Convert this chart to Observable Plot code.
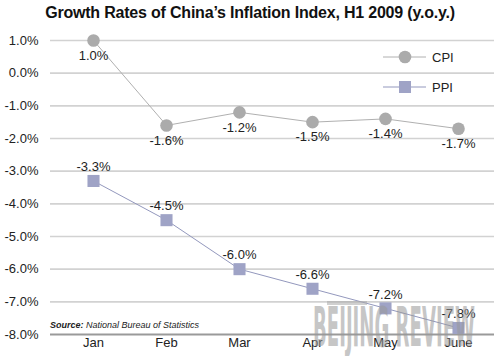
<!DOCTYPE html>
<html><head><meta charset="utf-8">
<script src="https://cdn.jsdelivr.net/npm/d3@7"></script>
<script src="https://cdn.jsdelivr.net/npm/@observablehq/plot@0.6"></script>
<style>
body{margin:0;background:#fff;font-family:"Liberation Sans",Arial,Helvetica,sans-serif;}
#wrap{position:relative;width:500px;height:356px;overflow:hidden;background:#fff}
#title{height:26px;line-height:26px;text-align:center;font-weight:bold;font-size:16px;color:#111;letter-spacing:-0.2px}
#source{position:absolute;left:50px;top:320px;font-size:9px;font-style:italic;color:#222}
#legend{position:absolute;left:0;top:0;pointer-events:none}
#wm{position:absolute;left:0;top:0;pointer-events:none}
</style></head>
<body>
<div id="wrap">
  <div id="title">Growth Rates of China’s Inflation Index, H1 2009 (y.o.y.)</div>
  <div id="chart"></div>
  <div id="source"><b>Source:</b> National Bureau of Statistics</div>
</div>
<script>
const months = ["Jan", "Feb", "Mar", "Apr", "May", "June"];
const cpi = [1.0, -1.6, -1.2, -1.5, -1.4, -1.7];
const ppi = [-3.3, -4.5, -6.0, -6.6, -7.2, -7.8];
const yTicks = [1, 0, -1, -2, -3, -4, -5, -6, -7, -8];
const seriesNames = ["CPI", "PPI"];

const cpiData = months.map((m, i) => ({month: m, value: cpi[i]}));
const ppiData = months.map((m, i) => ({month: m, value: ppi[i]}));
const fmt = d => d.toFixed(1) + "%";

const cpiColor = "#ababab";
const ppiColor = "#9fa3c6";

const plot = Plot.plot({
  width: 500,
  height: 330,
  marginLeft: 50,
  marginRight: 6,
  marginTop: 14,
  marginBottom: 22,
  style: {fontFamily: "'Liberation Sans', Arial, sans-serif", fontSize: "13px", color: "#222", background: "#fff", overflow: "visible"},
  x: {type: "point", domain: months, range: [92, 459.5], padding: 0, label: null},
  y: {domain: [-8, 1], label: null},
  marks: [
    Plot.ruleY(yTicks.filter(t => t > -8), {stroke: "#d2d2d2", strokeWidth: 1.6}),
    Plot.ruleY([-8], {stroke: "#9a9a9a", strokeWidth: 2}),
    Plot.axisY({ticks: yTicks, tickFormat: fmt, tickSize: 0, tickPadding: 12, fontSize: 13, label: null}),
    Plot.axisX({tickSize: 0, tickPadding: 3, fontSize: 13, label: null}),
    Plot.line(cpiData, {x: "month", y: "value", stroke: "#b0b0b0", strokeWidth: 1}),
    Plot.line(ppiData, {x: "month", y: "value", stroke: "#9398bd", strokeWidth: 1}),
    Plot.dot(cpiData, {x: "month", y: "value", r: 6.3, fill: cpiColor, stroke: "none"}),
    Plot.dot(ppiData, {x: "month", y: "value", symbol: "square", r: 6.8, fill: ppiColor, stroke: "none"}),
    Plot.text(cpiData, {x: "month", y: "value", text: d => fmt(d.value), dy: 15, fontSize: 13, fill: "#222"}),
    Plot.text(ppiData, {x: "month", y: "value", text: d => fmt(d.value), dy: -14, fontSize: 13, fill: "#222"})
  ]
});
document.getElementById("chart").appendChild(plot);

// legend overlay
const wrap = d3.select("#wrap");
const lg = wrap.append("svg").attr("id", "legend").attr("width", 500).attr("height", 356);
const legendItems = [
  {name: seriesNames[0], color: cpiColor, line: "#b0b0b0", sym: d3.symbolCircle, size: Math.PI * 6.3 * 6.3, y: 57},
  {name: seriesNames[1], color: ppiColor, line: "#9398bd", sym: d3.symbolSquare, size: 144, y: 87}
];
for (const it of legendItems) {
  const g = lg.append("g").attr("transform", `translate(0,${it.y})`);
  g.append("line").attr("x1", 383).attr("x2", 426).attr("stroke", it.line).attr("stroke-width", 1);
  g.append("path").attr("transform", "translate(405,0)").attr("d", d3.symbol(it.sym, it.size)()).attr("fill", it.color);
  g.append("text").attr("x", 432).attr("dy", "0.35em").attr("font-size", 13).attr("fill", "#222")
    .attr("font-family", "'Liberation Sans', Arial, sans-serif").text(it.name);
}

// watermark
const wm = wrap.append("svg").attr("id", "wm").attr("width", 500).attr("height", 356);
wm.append("rect").attr("x", 327).attr("y", 301).attr("width", 40).attr("height", 4).attr("fill", "#aaa").attr("opacity", 0.55);
const wmText = wm.append("text").attr("x", 0).attr("y", 0).attr("font-size", 55).attr("font-weight", "bold")
  .attr("font-family", "'Liberation Sans Narrow', 'DejaVu Sans Condensed', sans-serif")
  .attr("fill", "#999").attr("opacity", 0.55).text("BEIJING REVIEW");
const bb = wmText.node().getBBox();
const w = bb.width || 300;
const target = 162;
wmText.attr("transform", `translate(${313 - bb.x * target / w},346) scale(${target / w},1)`);
</script>
</body></html>
